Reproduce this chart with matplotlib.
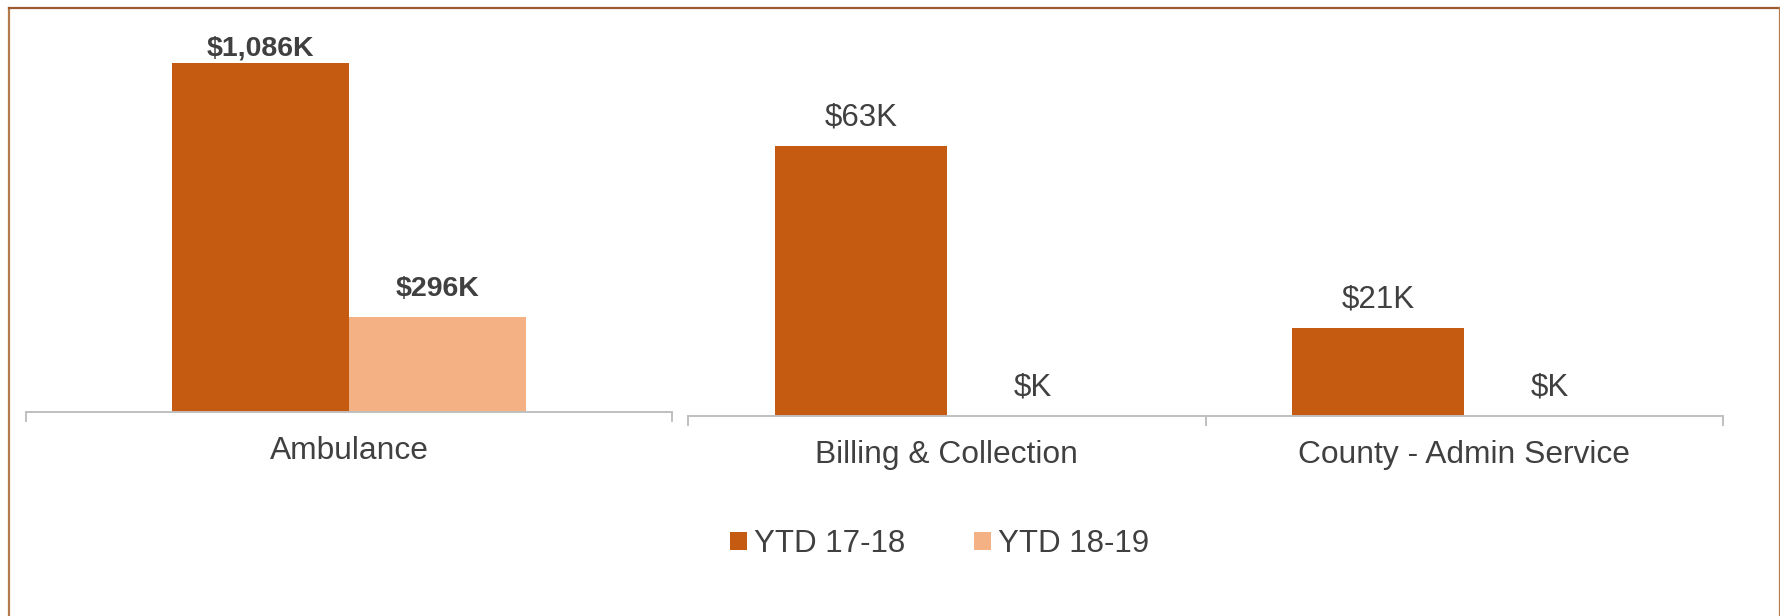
import matplotlib
matplotlib.use("Agg")
import matplotlib.pyplot as plt
from matplotlib.patches import Patch
from matplotlib.lines import Line2D

# ---- data ----
series_names = ["YTD 17-18", "YTD 18-19"]
left_categories = ["Ambulance"]
left_ytd1718 = [1086]
left_ytd1819 = [296]
right_categories = ["Billing & Collection", "County - Admin Service"]
right_ytd1718 = [63, 20.6]
right_ytd1819 = [0, 0]

# ---- style ----
C1 = "#C55A11"
C2 = "#F4B183"
TXT = "#404040"
AX = "#BFBFBF"
FS = 22.5
FS_CAT = 22.9
plt.rcParams['font.family'] = ['Liberation Sans', 'DejaVu Sans']

W, H, DPI = 1781, 616, 100
fig = plt.figure(figsize=(W / DPI, H / DPI), dpi=DPI)


def fmt(v):
    if round(v) == 0:
        return "$K"
    return "${:,.0f}K".format(v)


def make_axes(px_left, px_right, px_base, px_top):
    return fig.add_axes([px_left / W, 1 - px_base / H,
                         (px_right - px_left) / W, (px_base - px_top) / H])


def draw(ax, cats, v1, v2, width, ymax, bold):
    n = len(cats)
    xs = list(range(n))
    ax.bar([x - width / 2 for x in xs], v1, width, color=C1)
    ax.bar([x + width / 2 for x in xs], v2, width, color=C2)
    ax.set_xlim(-0.5, n - 0.5)
    ax.set_ylim(0, ymax)
    for s in ["top", "right", "left"]:
        ax.spines[s].set_visible(False)
    ax.spines["bottom"].set_color(AX)
    ax.spines["bottom"].set_linewidth(1.4)
    ax.set_yticks([])
    ax.set_xticks([i - 0.5 for i in range(n + 1)])
    ax.set_xticklabels([])
    ax.tick_params(axis="x", which="major", length=7.5, width=1.4, color=AX)
    ax.set_xticks(xs, minor=True)
    ax.set_xticklabels(cats, minor=True, fontsize=FS_CAT, color=TXT)
    ax.tick_params(axis="x", which="minor", length=0, pad=17.5)
    # data labels
    axh_px = ax.get_position().height * H
    for vals, off in ((v1, -width / 2), (v2, width / 2)):
        for x, v in zip(xs, vals):
            gap_px = (ymax - v) / ymax * axh_px
            off_px = min(28, gap_px - 28)
            ax.annotate(fmt(v), (x + off, v), xytext=(0, off_px * 72 / DPI),
                        textcoords="offset points", ha="center", va="center",
                        fontsize=(20.5 if bold else FS), color=TXT,
                        fontweight=("bold" if bold else "normal"),
                        annotation_clip=False)


axL = make_axes(26, 672, 412, 20)
draw(axL, left_categories, left_ytd1718, left_ytd1819, 0.274,
     left_ytd1718[0] * 392 / 349, True)

axR = make_axes(688, 1723, 416, 20)
draw(axR, right_categories, right_ytd1718, right_ytd1819, 0.3324,
     right_ytd1718[0] * 396 / 270, False)

# legend
handles = [Patch(facecolor=C1, edgecolor="none"), Patch(facecolor=C2, edgecolor="none")]
fig.legend(handles, series_names, loc="center", bbox_to_anchor=(940 / W, 1 - 544 / H),
           ncol=2, frameon=False, fontsize=FS, labelcolor=TXT,
           handlelength=0.52, handleheight=0.52, handletextpad=0.25,
           columnspacing=2.2, borderpad=0)

# outer frame (left, top, right)
BC = "#B47A4E"
fig.add_artist(Line2D([8.5 / W, 8.5 / W], [0, 1 - 7.5 / H], transform=fig.transFigure,
                      color=BC, lw=1.6))
fig.add_artist(Line2D([8.5 / W, 1780 / W], [1 - 7.5 / H, 1 - 7.5 / H],
                      transform=fig.transFigure, color="#9C5A2E", lw=1.6))
fig.add_artist(Line2D([1780 / W, 1780 / W], [0, 1 - 7.5 / H], transform=fig.transFigure,
                      color=BC, lw=1.6))

fig.savefig("out.png", dpi=DPI)
